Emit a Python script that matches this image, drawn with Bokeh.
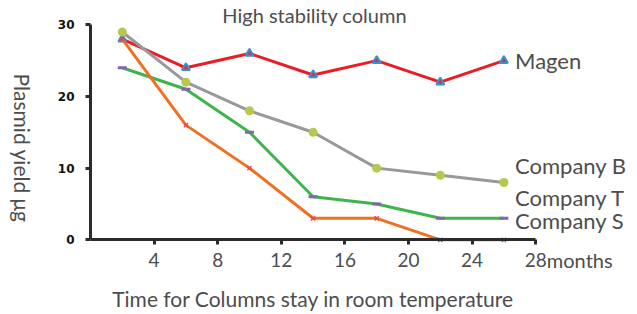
import math
from bokeh.plotting import figure
from bokeh.models import Label, FixedTicker, Range1d
from bokeh.embed import file_html
from bokeh.resources import INLINE

months = [2, 6, 10, 14, 18, 22, 26]
magen = [28, 24, 26, 23, 25, 22, 25]
company_b = [29, 22, 18, 15, 10, 9, 8]
company_t = [24, 21, 15, 6, 5, 3, 3]
company_s = [28, 16, 10, 3, 3, 0, 0]
x_ticks = [4, 8, 12, 16, 20, 24, 28]
y_ticks = [0, 10, 20, 30]

FONT = "Lato"
GREY = "#4d4d4d"

W, H = 629, 314
X0PX, XU = 90, 15.9          # pixel of x=0, pixels per month
Y0PX, YU = 239.3, 71.67 / 10  # pixel of y=0 (from top), pixels per unit

p = figure(width=W, height=H, output_backend="svg", toolbar_location=None,
           x_range=Range1d(-X0PX / XU, (W - X0PX) / XU),
           y_range=Range1d(-(H - Y0PX) / YU, Y0PX / YU),
           min_border_left=0, min_border_right=0, min_border_top=0, min_border_bottom=0)
p.outline_line_color = None
p.xgrid.visible = False
p.ygrid.visible = False
p.background_fill_color = "white"

for ax in (p.xaxis[0], p.yaxis[0]):
    ax.fixed_location = 0
    ax.axis_line_color = "#2b2b2b"
    ax.axis_line_width = 3
    ax.major_tick_line_color = "#2b2b2b"
    ax.major_tick_line_width = 3
    ax.major_tick_out = 5
    ax.major_tick_in = 0
    ax.minor_tick_line_color = None

p.xaxis.bounds = (0, 28)
p.yaxis.bounds = (0, 30)

p.xaxis.ticker = FixedTicker(ticks=x_ticks)
p.xaxis.major_label_text_font = FONT
p.xaxis.major_label_text_font_size = "19px"
p.xaxis.major_label_text_color = GREY
p.xaxis.major_label_standoff = 8

p.yaxis.ticker = FixedTicker(ticks=y_ticks)
p.yaxis.major_label_text_font = "DejaVu Sans"
p.yaxis.major_label_text_font_style = "bold"
p.yaxis.major_label_text_font_size = "12px"
p.yaxis.major_label_text_color = "#111111"
p.yaxis.major_label_standoff = 11

# series
p.line(months, magen, line_color="#ec1c24", line_width=3)
p.scatter(months, magen, marker="triangle", size=8, line_color="#3a8fd0", fill_color="#d9323a", line_width=2)

p.line(months, company_b, line_color="#999999", line_width=3)
p.scatter(months, company_b, marker="circle", size=9, line_color=None, fill_color="#b7c84c")

p.line(months, company_t, line_color="#3db54a", line_width=3)
p.scatter(months, company_t, marker="dash", size=9, line_color="#8466b0", line_width=3)

p.line(months, company_s, line_color="#f26f21", line_width=3)
p.scatter(months, company_s, marker="x", size=6, line_color="#e8484e", line_width=1.5)

labels = [("Magen", 25.0), ("Company B", 10.4), ("Company T", 5.9), ("Company S", 2.7)]
for name, yv in labels:
    p.add_layout(Label(x=26.7, y=yv, text=name, text_font=FONT, text_font_size="22px",
                       text_color=GREY, text_baseline="middle", text_align="left"))

p.add_layout(Label(x=28.7, y=-2.8, text="months", text_font=FONT, text_font_size="20px",
                   text_color=GREY, text_baseline="middle", text_align="left"))

p.add_layout(Label(x=14.1, y=31.3, text="High stability column", text_font=FONT,
                   text_font_size="20px", text_color=GREY, text_baseline="middle", text_align="center"))

p.add_layout(Label(x=14, y=-8.2, text="Time for Columns stay in room temperature", text_font=FONT,
                   text_font_size="21px", text_color=GREY, text_baseline="middle", text_align="center"))

p.add_layout(Label(x=-4.3, y=12.8, text="Plasmid yield μg", text_font=FONT, angle=-math.pi / 2,
                   text_font_size="21px", text_color=GREY, text_baseline="middle", text_align="center"))

open("out.html", "w").write(file_html(p, INLINE))
